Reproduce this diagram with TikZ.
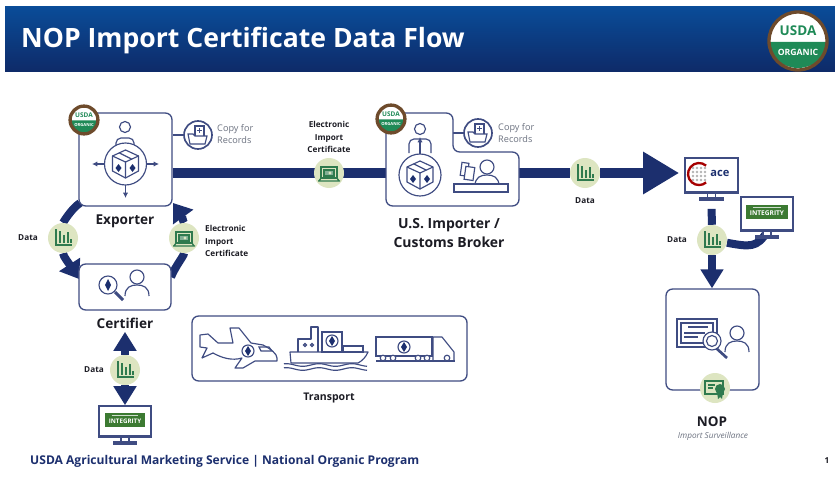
\documentclass[tikz,border=0pt]{standalone}
\usepackage{fontspec}
\usepackage{xcolor}
\setmainfont{Open Sans}
\usetikzlibrary{arrows.meta,backgrounds}
\definecolor{navybar}{HTML}{1C2F6E}
\definecolor{boxline}{HTML}{3F4C82}
\definecolor{dotgreen}{HTML}{DDE5C1}
\definecolor{iconleaf}{HTML}{2F7A4E}
\definecolor{logogreen}{HTML}{1F8A57}
\definecolor{logobrown}{HTML}{6E4B2C}
\definecolor{intgreen}{HTML}{3C7A32}
\definecolor{copygrey}{HTML}{6C7280}
\definecolor{inktext}{HTML}{1C1C24}
\definecolor{bannertop}{HTML}{0A4C98}
\definecolor{bannerlow}{HTML}{0E2A68}
\tikzset{
  outlinebox/.style={draw=boxline, line width=.04cm, rounded corners=.2cm, fill=white, inner sep=0pt},
  datacircle/.style={circle, fill=dotgreen, minimum size=.9cm, inner sep=0pt},
  screenbox/.style={draw=boxline, line width=.05cm, fill=white, inner sep=0pt},
  flowbar/.style={draw=navybar, line width=.3cm},
  flowthin/.style={draw=navybar, line width=.24cm},
  bighead/.style={-{Triangle[width=1.2cm,length=1.08cm]}},
  smallhead/.style={-{Triangle[width=.66cm,length=.57cm]}},
  loophead/.style={-{Triangle[width=.72cm,length=.52cm]}},
  iconline/.style={draw=boxline, line width=.035cm},
  tinyhead/.style={-{Latex[length=.16cm,width=.16cm]}},
  leafline/.style={draw=iconleaf, line width=.04cm},
  smalllabel/.style={font=\bfseries\fontsize{7}{10.5}\selectfont, text=inktext, align=center, inner sep=0pt},
  greylabel/.style={font=\fontsize{7.8}{11}\selectfont, text=copygrey, align=left, inner sep=0pt},
  rolelabel/.style={font=\bfseries\fontsize{11.6}{15.5}\selectfont, text=inktext, align=center, inner sep=0pt},
  % small icons, drawn around their own centre
  databars/.pic={
    \draw[leafline] (-7,-9) -- (-7,7) -- (9,7);
    \draw[leafline, line width=.07cm] (-3,-7) -- (-3,5) (1,-3) -- (1,5) (5,-6) -- (5,5) (8,1) -- (8,5);
  },
  laptopicon/.pic={
    \draw[leafline, fill=dotgreen] (-8,-6) rectangle (8,5);
    \draw[leafline] (-11,8) -- (11,8) (-8,5) -- (-10,8) (8,5) -- (10,8);
    \draw[leafline, fill=iconleaf!60] (-5,-3) rectangle (5,3);
    \fill[dotgreen] (1,0) circle (1.6);
  },
  certicon/.pic={
    \draw[leafline, fill=dotgreen] (-10,-7) rectangle (8,6);
    \draw[leafline] (-7,-3) -- (0,-3) (-7,0) -- (-2,0);
    \fill[iconleaf] (5,1) circle (5) (2,4) -- (8,4) -- (7,11) -- (5,9) -- (3,11) -- cycle;
  },
  usdabadge/.pic={
    \fill[white] (0,0) circle (29);
    \fill[logogreen] (-29,1) -- (29,1) arc (0:180:29 and 26) -- cycle;
    \draw[logobrown, line width=.1cm] (0,0) circle (29);
    \node[transform shape, text=logogreen, font=\bfseries\fontsize{11.5}{12}\selectfont, inner sep=0pt] (usdaword) at (0,-10) {USDA};
    \node[transform shape, text=white, font=\bfseries\fontsize{7.4}{8}\selectfont, inner sep=0pt] (organicword) at (0,11) {ORGANIC};
  },
  copyicon/.pic={
    \draw[boxline, line width=.05cm, fill=white] (0,0) circle (14);
    \draw[iconline, fill=white] (-3,-9) rectangle (6,2);
    \draw[iconline] (1.5,-7) -- (1.5,-2) (-1,-4.5) -- (4,-4.5);
    \draw[iconline, fill=white] (-10,-1) -- (-5,-1) -- (-3,1) -- (9,1) -- (7,9) -- (-8,9) -- cycle;
  },
  cubeicon/.pic={
    \draw[iconline, line join=round] (0,-14) -- (13,-8) -- (13,7) -- (0,14) -- (-13,7) -- (-13,-8) -- cycle;
    \draw[iconline] (-13,-8) -- (0,-2) -- (13,-8) (0,-2) -- (0,14) (-6,-11) -- (6,-5);
    \fill[navybar] (-7,0) -- (-4,4) -- (-7,8) -- (-10,4) -- cycle (7,0) -- (10,4) -- (7,8) -- (4,4) -- cycle;
  },
  monitorstand/.pic={
    \draw[iconline, fill=white] (-4,0) rectangle (4,4);
    \draw[iconline, line width=.07cm, fill=white] (-11,4) rectangle (11,6);
  },
  monitorbar/.pic={
    \fill[boxline] (-26,-3) rectangle (26,0);
  },
  integritylogo/.pic={
    \fill[intgreen] (-21,-7) rectangle (21,7);
    \draw[white!75!intgreen, line width=.02cm] (-14,-4.5) -- (14,-4.5);
    \node[transform shape, text=white, font=\bfseries\fontsize{5.6}{6}\selectfont, inner sep=0pt] (intgword) at (0,1.5) {INTEGRITY};
  },
  personicon/.pic={
    \draw[iconline] (0,-8) circle (7);
    \draw[iconline] (-12,11) .. controls (-12,2) and (-6,0) .. (0,0) .. controls (6,0) and (12,2) .. (12,11);
  }
}
\begin{document}
\begin{tikzpicture}[x=.03cm, y=-.03cm]
  \useasboundingbox (0,0) rectangle (835,478);
  % Banner
  \fill[top color=bannertop, bottom color=bannerlow] (5,7) rectangle (835,72);
  \node[text=white, font=\fontsize{22.7}{28}\selectfont\bfseries, anchor=west, inner sep=0pt] (bannertitle) at (21,41) {NOP Import Certificate Data Flow};
  \pic at (798,41) {usdabadge};

  % Boxes
  \node[outlinebox, minimum width=2.79cm, minimum height=2.79cm] (exporter) at (125.5,159.5) {};
  \node[outlinebox, minimum width=2.76cm, minimum height=1.38cm] (certifier) at (125,287) {};
  \node[inner sep=0pt, minimum width=3.99cm, minimum height=2.79cm] (importer) at (452.5,159.5) {};
  \node[outlinebox, minimum width=2.79cm, minimum height=3.03cm] (nop) at (712.5,339.5) {};
  \node[outlinebox, minimum width=8.25cm, minimum height=1.95cm] (transport) at (329.5,348.5) {};
  \draw[boxline, line width=.04cm, fill=white, rounded corners=.2cm]
    (386,113) -- (453,113) -- (453,152) -- (519,152) -- (519,206) -- (386,206) -- cycle;

  % Labels
  \node[rolelabel] (exporterlabel) at (125,221) {Exporter};
  \node[rolelabel] (certifierlabel) at (125,323) {Certifier};
  \node[rolelabel, font=\bfseries\fontsize{11.9}{15.5}\selectfont] (importerlabel) at (449,233) {U.S. Importer /\\Customs Broker};
  \node[rolelabel, font=\bfseries\fontsize{11.5}{15}\selectfont] (noplabel) at (712,422) {NOP};
  \node[font=\itshape\fontsize{7}{8}\selectfont, text=copygrey, inner sep=0pt] (noprole) at (713,436) {Import Surveillance};
  \node[smalllabel, font=\bfseries\fontsize{9}{10}\selectfont] (transportlabel) at (329,398) {Transport};
  \node[smalllabel] (certlabeltop) at (329,137) {Electronic\\Import\\Certificate};
  \node[smalllabel, align=left, anchor=west] (certlabelside) at (205,241) {Electronic\\Import\\Certificate};
  \node[greylabel, anchor=west] (copyexporter) at (217,134) {Copy for\\Records};
  \node[greylabel, anchor=west] (copyimporter) at (498,133) {Copy for\\Records};
  \node[inner sep=0pt, font=\bfseries\fontsize{10.3}{12}\selectfont, text=navybar, anchor=west] (footer) at (30,461) {USDA Agricultural Marketing Service | National Organic Program};
  \node[smalllabel] (pagenumber) at (827,461) {1};

  % Data points
  \node[datacircle] (leftdata) at (63,238) {};
  \node[datacircle] (rightdata) at (184,238) {};
  \node[datacircle] (certdata) at (329,173) {};
  \node[datacircle] (acedata) at (585,173) {};
  \node[datacircle] (nopdata) at (712,240) {};
  \node[datacircle] (basedata) at (125,370) {};
  \node[datacircle] (nopbadge) at (715,388) {};
  \pic at (leftdata) {databars};
  \pic at (acedata) {databars};
  \pic at (nopdata) {databars};
  \pic at (basedata) {databars};
  \pic at (certdata) {laptopicon};
  \pic at (rightdata) {laptopicon};
  \pic at (nopbadge) {certicon};
  \node[smalllabel] (leftdatalabel) at (28,238) {Data};
  \node[smalllabel] (acedatalabel) at (585,201) {Data};
  \node[smalllabel] (nopdatalabel) at (677,240) {Data};
  \node[smalllabel] (basedatalabel) at (94,370) {Data};

  % Screens
  \node[screenbox, minimum width=1.59cm, minimum height=1.05cm] (acescreen) at (711.5,175.5) {};
  \node[screenbox, minimum width=1.56cm, minimum height=1.02cm] (intgscreen) at (767,214) {};
  \node[screenbox, minimum width=1.56cm, minimum height=.93cm] (basescreen) at (125,421.5) {};
  \pic at (acescreen.south) {monitorbar};
  \pic at (intgscreen.south) {monitorbar};
  \pic at (basescreen.south) {monitorbar};
  \pic at (acescreen.south) {monitorstand};
  \pic at (intgscreen.south) {monitorstand};
  \pic at (basescreen.south) {monitorstand};
  \pic at (767,212) {integritylogo};
  \pic[scale=.95] at (125,420) {integritylogo};
  % ace logo
  \foreach \dx in {693,697,701,705}
    \foreach \dy in {168,172,176,180}
      \fill[gray!60] (\dx,\dy) circle (1.3);
  \draw[red!65!black, line width=.07cm] (706.1,165.6) arc (-50:-310:11);
  \node[text=navybar, font=\bfseries\fontsize{9.5}{10}\selectfont, inner sep=0pt] (aceword) at (720,173) {ace};

  % Connectors
  \coordinate (certin) at (79,279);
  \coordinate (certout) at (171,277);
  \coordinate (exportout) at (80,203);
  \coordinate (exportin) at (173,203);
  \coordinate (copyexporterdot) at (198,135);
  \coordinate (copyimporterdot) at (478,133);
  \begin{pgfonlayer}{background}
    \fill[white] (0,0) rectangle (835,478);
    \draw[flowbar] (exporter.east |- certdata) -- (importer.west |- certdata);
    \draw[flowbar] (importer.east |- acedata) -- (acedata);
    \draw[flowbar, bighead, shorten >=.15cm] (acedata) -- (acescreen.west |- acedata);
    \draw[flowthin] (exportout) .. controls +(-9,6) and +(0,-15) .. (leftdata);
    \draw[flowthin, loophead] (leftdata) .. controls +(0,18) and +(-9,-14) .. (certin);
    \draw[flowthin] (certout) .. controls +(5,-12) and +(0,18) .. (rightdata);
    \draw[flowthin, loophead] (rightdata) .. controls +(0,-14) and +(8,11) .. (exportin);
    \draw[flowthin, smallhead, shorten >=.1cm] (basedata) -- (certifierlabel.south);
    \draw[flowthin, smallhead] (basedata) -- (basescreen.north);
    \draw[flowthin, shorten <=.45cm] (acescreen.south) -- (nopdata);
    \draw[flowthin, smallhead] (nopdata) -- (nopdata |- nop.north);
    \draw[flowthin] (nopdata) .. controls +(38,7) and +(-10,16) .. (intgscreen.south);
    \draw[boxline, line width=.04cm] (exporter.east |- copyexporterdot) -- (copyexporterdot);
    \draw[boxline, line width=.04cm] (453,133) -- (copyimporterdot);
  \end{pgfonlayer}

  % Seals and copy icons
  \pic[scale=.48] at (84,120) {usdabadge};
  \pic[scale=.48] at (391,119) {usdabadge};
  \pic at (copyexporterdot) {copyicon};
  \pic at (copyimporterdot) {copyicon};

  % Exporter icon
  \draw[iconline] (125,127) circle (5.5);
  \draw[iconline, rounded corners=.15cm] (116,146) -- (116,138) -- (134,138) -- (134,146);
  \draw[iconline, fill=white] (125.5,164) circle (21);
  \pic at (125.5,164) {cubeicon};
  \draw[iconline, tinyhead] (104,164) -- (92,164);
  \draw[iconline, tinyhead] (147,164) -- (159,164);
  \draw[iconline, tinyhead] (125.5,185) -- (125.5,198);

  % Importer icons
  \draw[iconline] (420,129) circle (5.5);
  \draw[iconline, rounded corners=.15cm] (409,153) -- (409,139) -- (431,139) -- (431,153);
  \draw[iconline, fill=white] (420,175) circle (21);
  \pic at (420,175) {cubeicon};
  \draw[iconline, tinyhead] (420,154) -- (420,137);
  \pic at (487,175) {personicon};
  \draw[iconline, fill=white] (454,184) rectangle (508,192);
  \draw[iconline, fill=white, rotate around={-8:(466,170)}] (461,163) rectangle (468,176);
  \draw[iconline, fill=white, rotate around={-8:(470,173)}] (465,167) rectangle (474,180);

  % Certifier icons
  \draw[iconline] (108,285) circle (9);
  \draw[iconline, line width=.09cm] (115,292) -- (123,300);
  \fill[navybar] (108,279) -- (111,285) -- (108,291) -- (105,285) -- cycle;
  \pic at (137,285) {personicon};

  % NOP icons
  \draw[iconline, fill=white] (677,319) rectangle (717,347);
  \draw[iconline] (681,323) rectangle (713,343);
  \draw[iconline, line width=.06cm] (688,327) -- (708,327) (684,333) -- (705,333) (684,337) -- (698,337);
  \draw[iconline, line width=.08cm] (716,348) -- (727,358);
  \draw[iconline, fill=white] (712,341) circle (9);
  \draw[iconline] (712,341) circle (5.5);
  \pic at (737,341) {personicon};

  % Transport: plane
  \draw[iconline, line join=round, fill=white]
    (200,335) -- (208,334) -- (218,343) -- (233,343) -- (230,328) -- (239,328) -- (251,343) -- (263,345)
    .. controls (271,349) and (277,354) .. (277,358) -- (277,361) -- (255,361) -- (243,368) -- (235,368) -- (242,358)
    .. controls (232,361) and (222,358) .. (213,353) -- (202,358) -- (207,348) -- (200,347) -- cycle;
  \draw[iconline] (259,347) -- (269,347) -- (272,351) -- (261,351) -- cycle;
  \draw[iconline, fill=white] (248,351) circle (6);
  \fill[navybar] (248,346) -- (251,351) -- (248,356) -- (245,351) -- cycle;

  % Transport: ship
  \draw[iconline, line join=round] (298,352) -- (298,339) -- (311,339) -- (311,327) -- (318,327) -- (318,352);
  \draw[iconline] (322,332) rectangle (342,352);
  \draw[iconline] (343,346) rectangle (363,352);
  \draw[iconline] (332,341) circle (6);
  \fill[navybar] (332,336) -- (335,341) -- (332,346) -- (329,341) -- cycle;
  \draw[iconline] (305,345) circle (1.5) (312,345) circle (1.5);
  \draw[iconline, line join=round] (290,352) -- (368,352) .. controls (366,357) and (362,361) .. (358,363) -- (291,363) -- cycle;
  \draw[iconline, domain=284:367, samples=70, smooth, variable=\x] plot ({\x},{365+1.3*sin(\x*11)});
  \draw[iconline, domain=284:367, samples=70, smooth, variable=\x] plot ({\x},{369+1.3*sin(\x*11)});

  % Transport: truck
  \draw[iconline] (376,337) rectangle (432,356);
  \draw[iconline] (376,361) -- (455,361);
  \draw[iconline, line join=round] (433,361) -- (433,337) -- (442,337) -- (454,352) -- (454,361);
  \draw[iconline] (404,347) circle (6);
  \fill[navybar] (404,342) -- (407,347) -- (404,352) -- (401,347) -- cycle;
  \foreach \wx in {383,393,418,427,447}
    \draw[iconline, fill=white] (\wx,358) circle (2.8);
\end{tikzpicture}
\end{document}
